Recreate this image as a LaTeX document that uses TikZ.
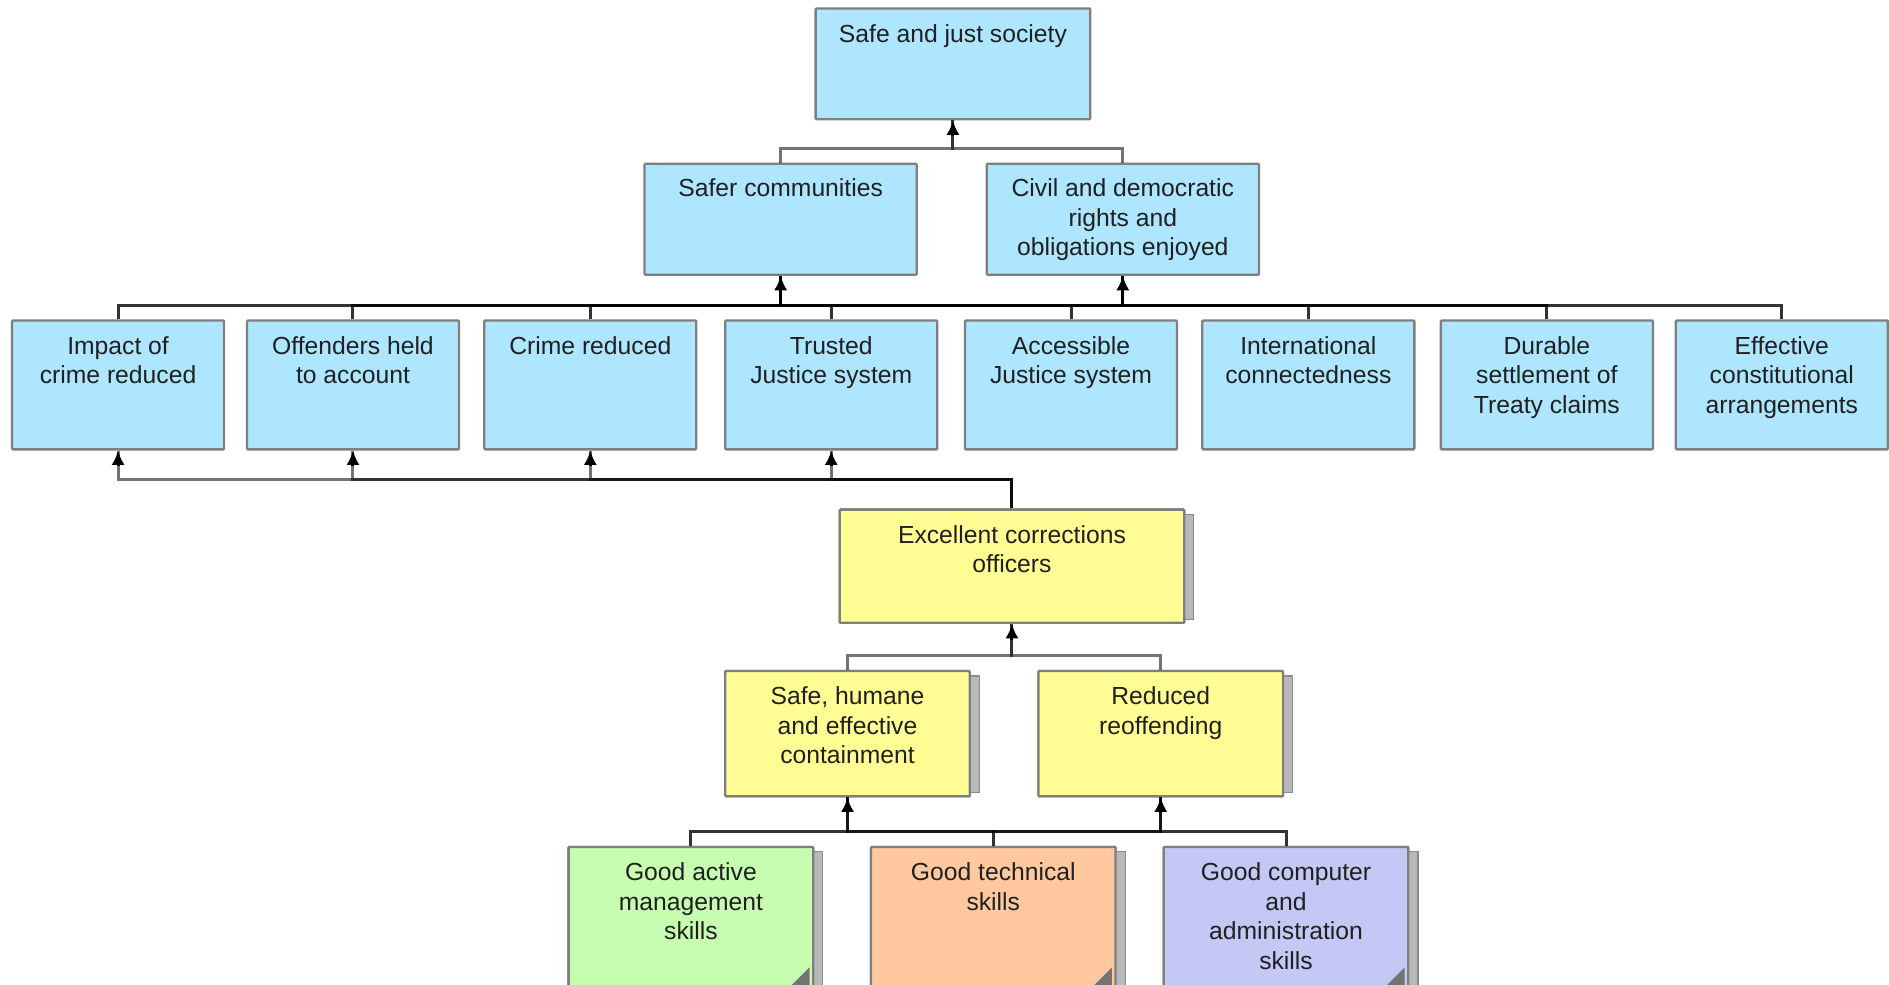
\documentclass[tikz,border=0pt]{standalone}
\usepackage{fontspec}
\setmainfont{Liberation Sans}
\usetikzlibrary{arrows.meta,calc}
\definecolor{bluefill}{HTML}{ADE6FE}
\definecolor{yelfill}{HTML}{FFFD94}
\definecolor{grnfill}{HTML}{C6FDB1}
\definecolor{orgfill}{HTML}{FFC89E}
\definecolor{lavfill}{HTML}{C4C8F4}
\definecolor{boxline}{HTML}{7F7F7F}
\definecolor{txtcol}{HTML}{202020}
\tikzset{
  box/.style={draw=boxline, line width=1.9pt, rectangle, inner sep=0pt, rounded corners=0.8pt},
  bluebox/.style={box, fill=bluefill, minimum width=176pt, minimum height=107pt},
  txt/.style={anchor=north, inner sep=0pt, align=center, text=txtcol,
    font=\fontsize{20.5}{24.5}\selectfont},
  conn/.style={draw=black, line width=2.5pt, draw opacity=0.55},
  tipar/.style={draw=black, line width=2.5pt, -{Latex[length=12pt,width=11pt]}},
  shadowbox/.style={fill=black!28, draw=black!45, line width=1pt},
  fold/.style={fill=black!55, draw=none},
}
\newcommand{\shadowof}[1]{%
  \path[shadowbox] ($(#1.north east)+(-4,5)$) rectangle ($(#1.south east)+(7,-4)$);}
\newcommand{\foldof}[1]{%
  \path[fold] ($(#1.south east)+(-4,-4)$) -- ($(#1.south east)+(-20,-4)$) -- ($(#1.south east)+(-4,-20)$) -- cycle;}
\begin{document}
\begin{tikzpicture}[x=1pt,y=-1pt]
\useasboundingbox (0,0) rectangle (1568,817);
\clip (0,0) rectangle (1568,817);
\fill[white] (0,0) rectangle (1568,817);

% ---------- top levels ----------
\node[box, fill=bluefill, minimum width=228pt, minimum height=92pt] (top) at (791,53) {};
\node[txt] (topt) at ($(top.north)+(0,14)$) {Safe and just society};

\node[box, fill=bluefill, minimum width=226pt, minimum height=92pt] (safer) at (648,182) {};
\node[txt] (safert) at ($(safer.north)+(0,13)$) {Safer communities};
\node[box, fill=bluefill, minimum width=226pt, minimum height=92pt] (civil) at (932,182) {};
\node[txt] (civilt) at ($(civil.north)+(0,13)$) {Civil and democratic\\rights and\\obligations enjoyed};

% ---------- level 3 ----------
\foreach \n/\x/\t in {
  a/98/{Impact of\\crime reduced},
  b/293/{Offenders held\\to account},
  c/490/{Crime reduced},
  d/690/{Trusted\\Justice system},
  e/889/{Accessible\\Justice system},
  f/1086/{International\\connectedness},
  g/1284/{Durable\\settlement of\\Treaty claims},
  h/1479/{Effective\\constitutional\\arrangements}}{
  \node[bluebox] (\n) at (\x,319.5) {};
  \node[txt] (\n t) at ($(\n.north)+(0,14)$) {\t};
}

% ---------- yellow ----------
\node[box, fill=yelfill, minimum width=286pt, minimum height=94pt] (exc) at (840,470) {};
\shadowof{exc}
\node[box, fill=yelfill, minimum width=286pt, minimum height=94pt] (exc) at (840,470) {};
\node[txt] (exct) at ($(exc.north)+(0,14)$) {Excellent corrections\\officers};

\node[box, fill=yelfill, minimum width=203pt, minimum height=104pt] (shc) at (703.5,609) {};
\shadowof{shc}
\node[box, fill=yelfill, minimum width=203pt, minimum height=104pt] (shc) at (703.5,609) {};
\node[txt] (shct) at ($(shc.north)+(0,14)$) {Safe, humane\\and effective\\containment};

\node[box, fill=yelfill, minimum width=203pt, minimum height=104pt] (red) at (963.5,609) {};
\shadowof{red}
\node[box, fill=yelfill, minimum width=203pt, minimum height=104pt] (red) at (963.5,609) {};
\node[txt] (redt) at ($(red.north)+(0,14)$) {Reduced\\reoffending};

% ---------- bottom ----------
\foreach \n/\x/\c/\t in {
  gam/573.5/grnfill/{Good active\\management\\skills},
  gts/824.5/orgfill/{Good technical\\skills},
  gca/1067.5/lavfill/{Good computer\\and\\administration\\skills}}{
  \node[box, fill=\c, minimum width=203pt, minimum height=119pt] (\n) at (\x,762.5) {};
  \shadowof{\n}
  \node[box, fill=\c, minimum width=203pt, minimum height=119pt] (\n) at (\x,762.5) {};
  \foldof{\n}
  \node[txt] (\n t) at ($(\n.north)+(0,14)$) {\t};
}

% ---------- connectors ----------
% level 2 -> top
\coordinate (jtop) at ($(top.south)+(0,23)$);
\foreach \s in {safer,civil}{
  \draw[conn] (\s.north) |- (jtop) -- (top.south);
}
\draw[tipar] ($(top.south)+(0,13)$) -- (top.south);

% level 3 -> level 2
\foreach \p in {safer,civil}{
  \coordinate (j\p) at ($(\p.south)+(0,25)$);
  \foreach \s in {a,b,c,d,e,f,g,h}{
    \draw[conn] (\s.north) |- (j\p) -- (\p.south);
  }
  \draw[tipar] ($(\p.south)+(0,13)$) -- (\p.south);
}

% excellent -> level 3 (a-d)
\foreach \p in {a,b,c,d}{
  \coordinate (k\p) at ($(\p.south)+(0,24)$);
  \draw[conn] (exc.north) |- (k\p) -- (\p.south);
  \draw[tipar] ($(\p.south)+(0,13)$) -- (\p.south);
}

% yellow -> excellent
\coordinate (jexc) at ($(exc.south)+(0,26)$);
\foreach \s in {shc,red}{
  \draw[conn] (\s.north) |- (jexc) -- (exc.south);
}
\draw[tipar] ($(exc.south)+(0,13)$) -- (exc.south);

% bottom -> yellow
\foreach \p in {shc,red}{
  \coordinate (j\p) at ($(\p.south)+(0,28)$);
  \foreach \s in {gam,gts,gca}{
    \draw[conn] (\s.north) |- (j\p) -- (\p.south);
  }
  \draw[tipar] ($(\p.south)+(0,13)$) -- (\p.south);
}
\end{tikzpicture}
\end{document}
